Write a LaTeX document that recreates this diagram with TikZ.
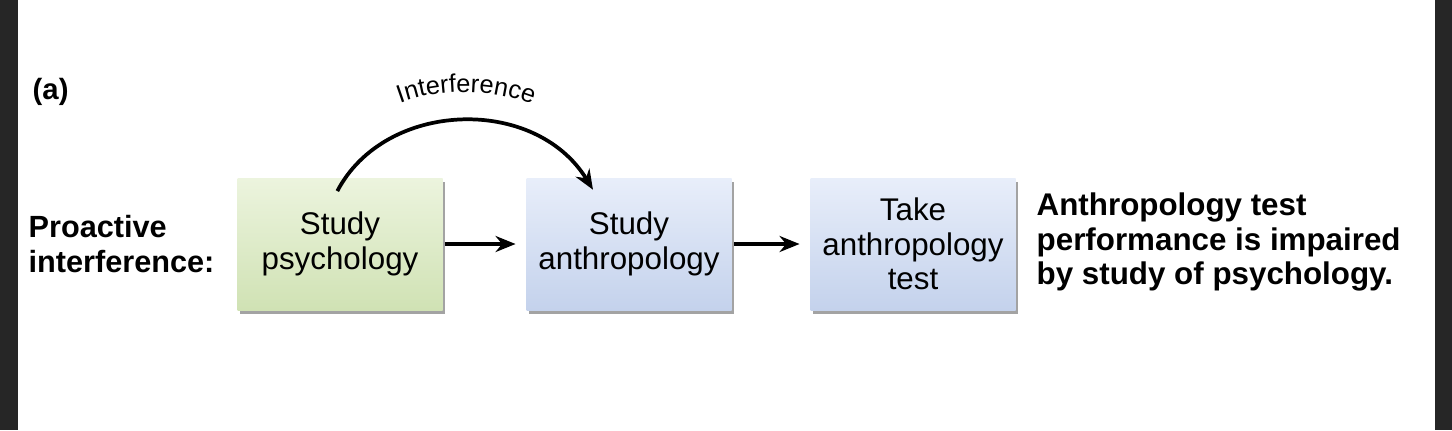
\documentclass[tikz,border=0pt]{standalone}
\usepackage{fontspec}
\setmainfont{Liberation Sans}
\usetikzlibrary{shadows,decorations.text,arrows.meta}
\definecolor{psytop}{RGB}{236,244,222}
\definecolor{psybot}{RGB}{208,226,180}
\definecolor{anthtop}{RGB}{232,238,250}
\definecolor{anthbot}{RGB}{196,210,236}

\begin{document}
\begin{tikzpicture}[x=0.75pt,y=0.75pt,yscale=-1,xscale=1,
  stagebox/.style={minimum width=205*0.75pt,minimum height=132*0.75pt,align=center,font=\fontsize{23.5}{26}\selectfont,
    drop shadow={shadow xshift=2pt,shadow yshift=-3pt,fill=black!60,opacity=0.6}},
  flow/.style={-{Stealth[length=15pt,width=12pt]},line width=2.8pt}]
%set diagram frame
\fill[black!85] (0,0) rectangle (1452,430);
\fill[white] (18,0) rectangle (1435,430);
\useasboundingbox (0,0) rectangle (1452,430);

% Text Node
\node (tag) [anchor=north west,font=\fontsize{22}{26}\selectfont\bfseries] at (28,74) {(a)};
% Text Node
\node (kind) [anchor=west,align=left,font=\fontsize{23}{26}\selectfont\bfseries] at (24,244) {Proactive\\interference:};

% Boxes
\node (psy) [stagebox,top color=psytop,bottom color=psybot] at (340,244) {Study\\psychology};
\node (anth) [stagebox,top color=anthtop,bottom color=anthbot] at (629,244) {Study\\anthropology};
\node (test) [stagebox,top color=anthtop,bottom color=anthbot] at (913,244) {Take\\anthropology\\test};

% Result
\node (result) [anchor=west,align=left,font=\fontsize{23.5}{26}\selectfont\bfseries] at (1032,242) {Anthropology test\\performance is impaired\\by study of psychology.};

% Connectors
\draw [flow] (psy.east) ++(2,0) coordinate (p1) (p1) -- ([xshift=-8pt]anth.west);
\draw [flow] (anth.east) ++(2,0) coordinate (a1) (a1) -- ([xshift=-8pt]test.west);
\draw [flow] ([xshift=-2pt,yshift=10pt]psy.north) coordinate (c0) (c0) .. controls (385,100) and (535,95) .. ([xshift=-27pt,yshift=9pt]anth.north);

% Arched label
\path [decorate,decoration={text along path,text align=center,text={|\fontsize{19}{22}\selectfont|Interference},text color=black}] (380,112) .. controls (430,85) and (500,85) .. (552,114);
\end{tikzpicture}
\end{document}
